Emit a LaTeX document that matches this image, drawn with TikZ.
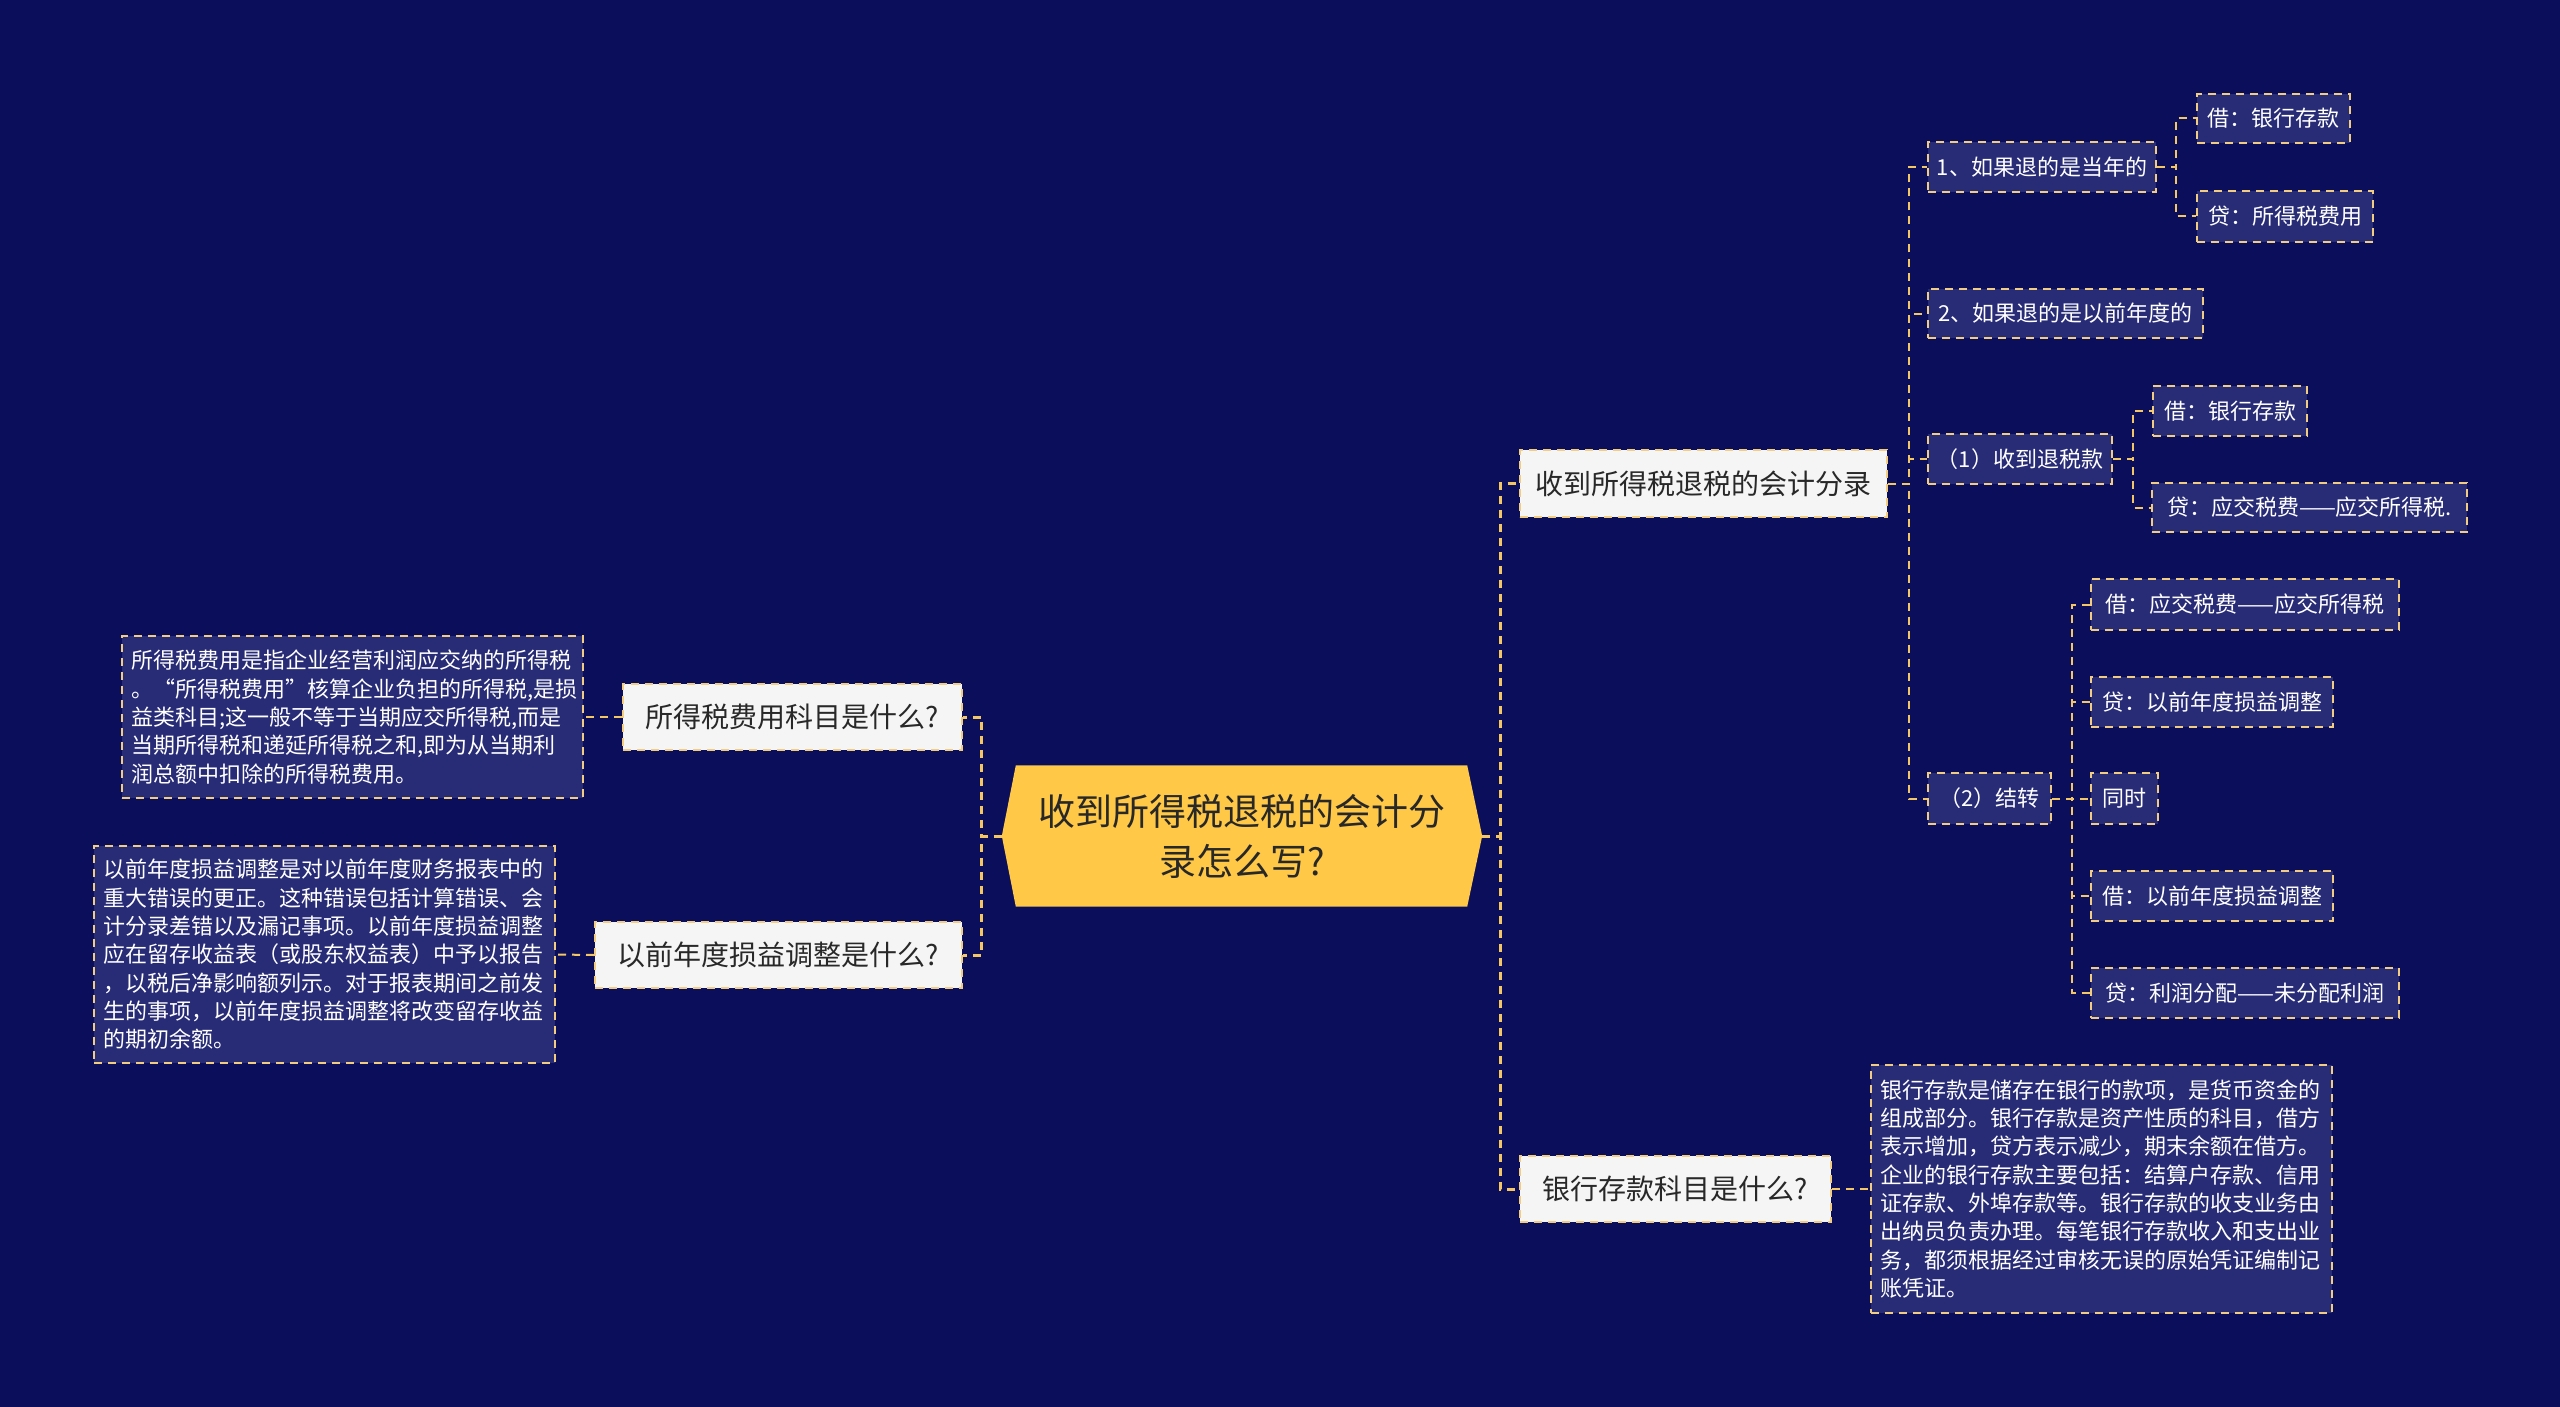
\documentclass[tikz,border=0pt]{standalone}
\usepackage{fontspec}
\setmainfont{Noto Sans CJK SC}
\usetikzlibrary{backgrounds}
\definecolor{bgc}{RGB}{11,14,90}
\definecolor{darkfill}{RGB}{40,44,118}
\definecolor{bordc}{RGB}{242,204,128}
\definecolor{linec}{RGB}{245,198,100}
\definecolor{centfill}{RGB}{255,200,70}
\definecolor{whitefill}{RGB}{245,245,245}
\definecolor{darktext}{RGB}{40,40,40}
\begin{document}
\begin{tikzpicture}[x=1pt,y=-1pt,
  conn/.style={draw=linec, line width=2pt, dash pattern=on 8pt off 6pt},
  mainconn/.style={conn, line width=3pt},
  whitebox/.style={draw=bordc, fill=whitefill, line width=2pt, dash pattern=on 8pt off 6pt,
    text=darktext, font=\fontsize{28}{34}\selectfont, minimum height=66pt, inner sep=0pt},
  darkbox/.style={draw=bordc, fill=darkfill, line width=2pt, dash pattern=on 8pt off 6pt,
    text=white, font=\fontsize{22}{26}\selectfont, minimum height=50pt, inner sep=0pt},
  descbox/.style={darkbox, align=left, text width=442pt, inner xsep=9.5pt, inner ysep=0pt,
    font=\fontsize{22}{28.3}\selectfont}
]
\useasboundingbox (0,0) rectangle (2560,1407);

% central node
\node (c) at (1242,836) [minimum width=480pt, minimum height=141pt, inner sep=0pt, align=center,
  text=darktext, font=\fontsize{37}{50}\selectfont] {收到所得税退税的会计分\\录怎么写?};
\begin{scope}[on background layer]
  \fill[bgc] (0,0) rectangle (2560,1407);
  \fill[centfill] (c.west) -- ([xshift=14pt]c.north west) -- ([xshift=-15pt]c.north east)
    -- (c.east) -- ([xshift=-15pt]c.south east) -- ([xshift=14pt]c.south west) -- cycle;
\end{scope}

% left side
\node[whitebox, minimum width=339pt] (q1) at (792.5,717) {所得税费用科目是什么?};
\node[whitebox, minimum width=367pt] (q2) at (778.5,955) {以前年度损益调整是什么?};
\node[descbox, minimum height=162pt] (d1) at (352.5,717) {所得税费用是指企业经营利润应交纳的所得税\\。“所得税费用”核算企业负担的所得税,是损\\益类科目;这一般不等于当期应交所得税,而是\\当期所得税和递延所得税之和,即为从当期利\\润总额中扣除的所得税费用。};
\node[descbox, minimum height=217pt] (d2) at (324.5,954.5) {以前年度损益调整是对以前年度财务报表中的\\重大错误的更正。这种错误包括计算错误、会\\计分录差错以及漏记事项。以前年度损益调整\\应在留存收益表（或股东权益表）中予以报告\\，以税后净影响额列示。对于报表期间之前发\\生的事项，以前年度损益调整将改变留存收益\\的期初余额。};

% right side level 1
\node[whitebox, minimum width=367pt, minimum height=67pt] (r1) at (1703.5,483.5) {收到所得税退税的会计分录};
\node[whitebox, minimum width=311pt] (r2) at (1675.5,1189) {银行存款科目是什么?};
\node[descbox, minimum height=248pt] (d3) at (2101.5,1189) {银行存款是储存在银行的款项，是货币资金的\\组成部分。银行存款是资产性质的科目，借方\\表示增加，贷方表示减少，期末余额在借方。\\企业的银行存款主要包括：结算户存款、信用\\证存款、外埠存款等。银行存款的收支业务由\\出纳员负责办理。每笔银行存款收入和支出业\\务，都须根据经过审核无误的原始凭证编制记\\账凭证。};

% level 2
\node[darkbox, minimum width=228pt] (a1) at (2042,167) {1、如果退的是当年的};
\node[darkbox, minimum width=153pt, minimum height=49pt] (a11) at (2273.5,118.5) {借：银行存款};
\node[darkbox, minimum width=176pt, minimum height=51pt] (a12) at (2285,216.5) {贷：所得税费用};
\node[darkbox, minimum width=275pt, minimum height=49pt] (a2) at (2065.5,313.5) {2、如果退的是以前年度的};
\node[darkbox, minimum width=184pt] (b1) at (2020,459) {（1）收到退税款};
\node[darkbox, minimum width=154pt] (b11) at (2230,411) {借：银行存款};
\node[darkbox, minimum width=315pt, minimum height=49pt] (b12) at (2309.5,507.5) {贷：应交税费——应交所得税.};
\node[darkbox, minimum width=123pt, minimum height=51pt] (b2) at (1989.5,798.5) {（2）结转};
\node[darkbox, minimum width=308pt, minimum height=51pt] (c1) at (2245,604.5) {借：应交税费——应交所得税};
\node[darkbox, minimum width=242pt] (c2) at (2212,702) {贷：以前年度损益调整};
\node[darkbox, minimum width=67pt, minimum height=51pt] (c3) at (2124.5,798.5) {同时};
\node[darkbox, minimum width=242pt] (c4) at (2212,896) {借：以前年度损益调整};
\node[darkbox, minimum width=308pt] (c5) at (2245,993) {贷：利润分配——未分配利润};

% connectors
\draw[mainconn] (c.west) -- ++(-20,0) |- (q1.east);
\draw[mainconn] (c.west) -- ++(-20,0) |- (q2.east);
\draw[mainconn] (c.east) -- ++(18,0) |- (r1.west);
\draw[mainconn] (c.east) -- ++(18,0) |- (r2.west);
\draw[conn] (q1.west) -- (d1.east);
\draw[conn] (q2.west) -- (d2.east);
\draw[conn] (r2.east) -- (d3.west);
\foreach \t in {a1,a2,b1,b2} \draw[conn] (r1.east) -- ++(21,0) |- (\t.west);
\foreach \t in {a11,a12} \draw[conn] (a1.east) -- ++(19,0) |- (\t.west);
\foreach \t in {b11,b12} \draw[conn] (b1.east) -- ++(20,0) |- (\t.west);
\foreach \t in {c1,c2,c3,c4,c5} \draw[conn] (b2.east) -- ++(20,0) |- (\t.west);
\end{tikzpicture}
\end{document}
